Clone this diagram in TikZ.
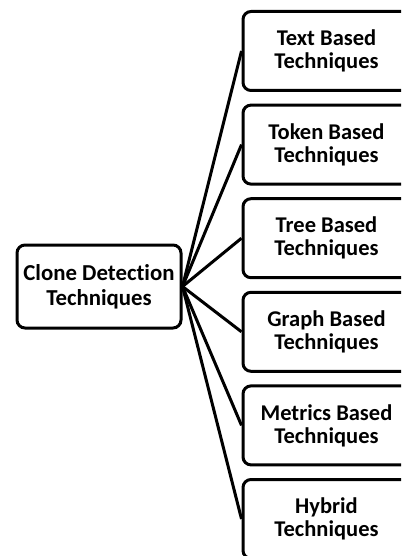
\documentclass[tikz,border=0pt]{standalone}
\usepackage{fontspec}
\setmainfont{Carlito}[Ligatures=NoCommon]
\begin{document}
\begin{tikzpicture}[x=1pt,y=-1pt,
  box/.style={draw=black, line width=3pt, rounded corners=8pt, fill=white,
    align=center, inner sep=0pt, font=\bfseries},
  rootbox/.style={box, minimum width=164pt, minimum height=83pt,
    font=\fontsize{22.8}{25}\selectfont\bfseries},
  leafbox/.style={box, minimum width=167pt, minimum height=79pt,
    font=\fontsize{22.5}{23}\selectfont\bfseries},
  link/.style={draw=black, line width=3pt}]
  \useasboundingbox (0,0) rectangle (401,556);
  \clip (0,0) rectangle (401,556);

  % root of the taxonomy
  \node[rootbox] (root) at (99,286.5) {Clone Detection\\Techniques};

  % the six families of techniques
  \node[leafbox] (t1) at (326.5,51)    {Text Based\\Techniques};
  \node[leafbox] (t2) at (326.5,144.6) {Token Based\\Techniques};
  \node[leafbox] (t3) at (326.5,238.2) {Tree Based\\Techniques};
  \node[leafbox] (t4) at (326.5,331.8) {Graph Based\\Techniques};
  \node[leafbox] (t5) at (326.5,425.4) {Metrics Based\\Techniques};
  \node[leafbox] (t6) at (326.5,519)   {Hybrid\\Techniques};

  % fan of connectors
  \foreach \n in {t1,t2,t3,t4,t5,t6}
    \draw[link] (root.east) -- (\n.west);
\end{tikzpicture}
\end{document}
